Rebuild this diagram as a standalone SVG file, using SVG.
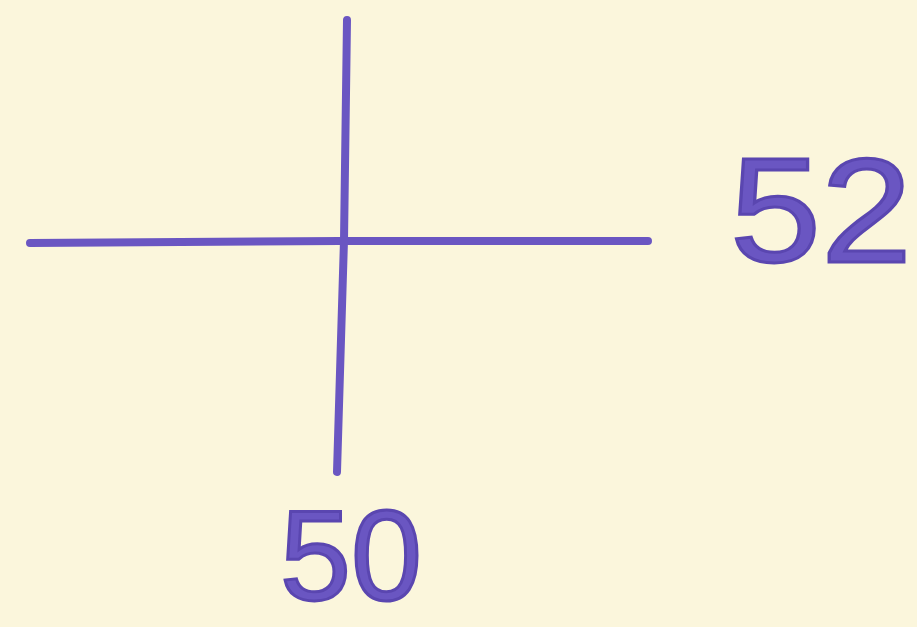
<svg xmlns="http://www.w3.org/2000/svg" width="917" height="627" viewBox="0 0 917 627">
<style>
.ln{stroke:#6a56c2;stroke-width:8;stroke-linecap:round;fill:none}
.lbl{font-family:"Liberation Sans",Arial,sans-serif;fill:#6a56c2;stroke:#5a46b0;stroke-width:3}
</style>
<rect width="917" height="627" fill="#fbf6dc"/>
<g id="connectors">
<path class="ln" d="M347,20 L344,240 L337,472"/>
<path class="ln" d="M30,243 L340,241 L648,241"/>
</g>
<g id="label52"><text class="lbl" x="730" y="262" font-size="148" textLength="182" lengthAdjust="spacingAndGlyphs">52</text></g>
<g id="label50"><text class="lbl" x="280" y="600" font-size="128" textLength="142" lengthAdjust="spacingAndGlyphs">50</text></g>
</svg>
